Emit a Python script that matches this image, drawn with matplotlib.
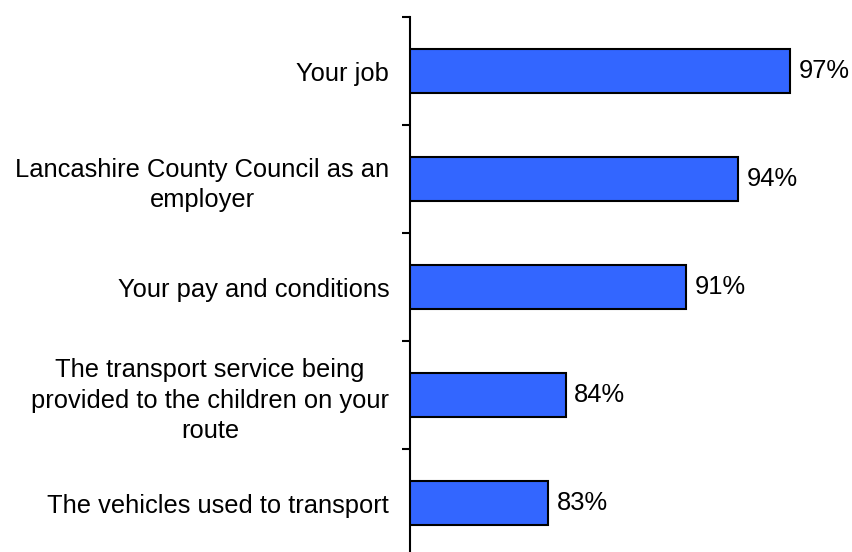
import matplotlib
matplotlib.use("Agg")
import matplotlib.pyplot as plt
import numpy as np

categories = [
    "Your job",
    "Lancashire County Council as an\nemployer",
    "Your pay and conditions",
    "The transport service being\nprovided to the children on your\nroute",
    "The vehicles used to transport",
]
values = [97, 94, 91, 84, 83]
value_labels = ["97%", "94%", "91%", "84%", "83%"]

plt.rcParams["font.family"] = ["Liberation Sans", "DejaVu Sans"]

W, H = 852, 552
fig = plt.figure(figsize=(W / 100, H / 100), dpi=100)
ax = fig.add_axes([410 / W, -5 / H, 432 / W, 540 / H])

y = np.arange(len(categories))
ax.barh(y, values, height=0.41, color="#3366FF", edgecolor="black",
        linewidth=1.5, left=0)

ax.set_xlim(75, 100)
ax.set_ylim(len(categories) - 0.5, -0.5)

for yi, v, lab in zip(y, values, value_labels):
    ax.text(v + 0.5, yi, lab, va="center", ha="left", fontsize=18.4)

for side in ("top", "right", "bottom"):
    ax.spines[side].set_visible(False)
ax.spines["left"].set_linewidth(1.5)
ax.xaxis.set_visible(False)

ax.set_yticks(y)
ax.set_yticklabels(categories, fontsize=18.4, multialignment="center",
                   linespacing=1.33)
ax.tick_params(axis="y", which="major", length=0, pad=15)
ax.set_yticks(np.arange(-0.5, len(categories)), minor=True)
ax.tick_params(axis="y", which="minor", length=6, width=1.5, direction="out")

fig.savefig("out.png", dpi=100)
